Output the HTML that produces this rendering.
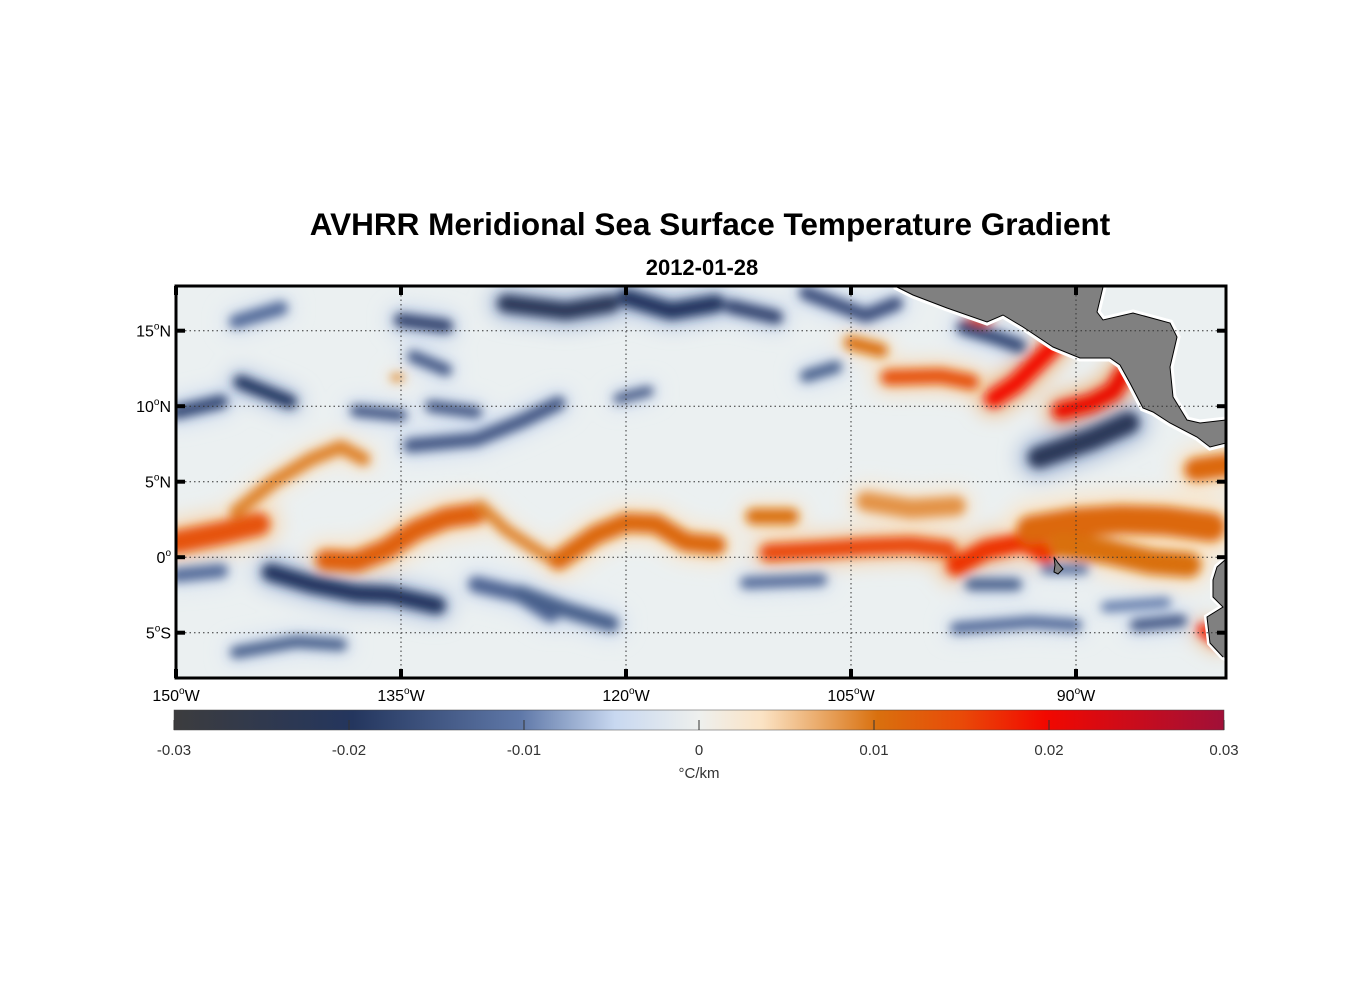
<!DOCTYPE html>
<html><head><meta charset="utf-8"><style>
body{margin:0;background:#fff;}
svg text{font-family:"Liberation Sans",Arial,sans-serif;}
</style></head><body>
<svg id="chart" width="1356" height="1000" xmlns="http://www.w3.org/2000/svg">
<defs>
<clipPath id="mapclip"><rect x="176" y="286" width="1050" height="392"/></clipPath>
<filter id="blur" x="-10%" y="-10%" width="120%" height="120%"><feGaussianBlur stdDeviation="5"/></filter>
<filter id="blur2" x="-10%" y="-10%" width="120%" height="120%"><feGaussianBlur stdDeviation="10"/></filter>
<linearGradient id="cbgrad" x1="0" x2="1" y1="0" y2="0">
<stop offset="0" stop-color="#3c3c3e"/><stop offset="0.17" stop-color="#24365e"/>
<stop offset="0.33" stop-color="#5f78a8"/><stop offset="0.42" stop-color="#c8d8f0"/>
<stop offset="0.5" stop-color="#eef0ee"/><stop offset="0.56" stop-color="#fbe3c4"/>
<stop offset="0.67" stop-color="#d9700e"/><stop offset="0.75" stop-color="#e94a08"/>
<stop offset="0.83" stop-color="#f20800"/><stop offset="1" stop-color="#a01038"/>
</linearGradient>
</defs>
<text x="710" y="235" font-size="31.5" font-weight="bold" text-anchor="middle">AVHRR Meridional Sea Surface Temperature Gradient</text>
<text x="702" y="275" font-size="22" font-weight="bold" text-anchor="middle">2012-01-28</text>
<g id="map" clip-path="url(#mapclip)">
<rect x="176" y="286" width="1050" height="392" fill="#ebf0f1"/>
<g id="halos" filter="url(#blur2)"></g>
<g id="features" filter="url(#blur)"></g>
<g>
<path d="M897,280 L897,287 L913,295 L947,308 L987,322 L1003,315 L1023,327 L1053,347 L1080,358 L1110,358 L1120,365 L1130,383 L1143,408 L1153,412 L1170,423 L1197,437 L1210,447 L1226,443 L1226,420 L1200,423 L1187,420 L1173,397 L1170,367 L1177,337 L1170,323 L1133,313 L1103,320 L1097,312 L1103,287 L1103,280 Z" fill="#808080" stroke="#fff" stroke-width="7" paint-order="stroke"/>
<path d="M897,287 L913,295 L947,308 L987,322 L1003,315 L1023,327 L1053,347 L1080,358 L1110,358 L1120,365 L1130,383 L1143,408 L1153,412 L1170,423 L1197,437 L1210,447 L1226,443 M1226,420 L1200,423 L1187,420 L1173,397 L1170,367 L1177,337 L1170,323 L1133,313 L1103,320 L1097,312 L1103,287" fill="none" stroke="#000" stroke-width="1"/>
<path d="M1230,558 L1225,560 L1217,567 L1213,580 L1213,597 L1223,607 L1207,617 L1210,643 L1223,657 L1230,660 Z" fill="#808080" stroke="#fff" stroke-width="6" paint-order="stroke"/>
<path d="M1225,560 L1217,567 L1213,580 L1213,597 L1223,607 L1207,617 L1210,643 L1223,657" fill="none" stroke="#000" stroke-width="1"/>
<path d="M1054,557 L1058,563 L1063,569 L1058,574 L1054,572 L1055,565 Z" fill="#808080" stroke="#000" stroke-width="1"/>
</g>
<g id="grid"></g>
</g>
<rect x="176" y="286" width="1050" height="392" fill="none" stroke="#000" stroke-width="3"/>
<g id="ticks"></g>
<g>
<rect x="174" y="710" width="1050" height="20" fill="url(#cbgrad)" stroke="#444" stroke-width="0.5"/>
<g id="cbticks"></g>
<text x="699" y="778" font-size="15" text-anchor="middle" fill="#333">°C/km</text>
</g>
</svg>
<script>
// data
const featureLons = [
 [-150,-147,-144.5],[-146,-143.5,-141,-139,-137.5],[-140,-138,-136,-134,-132,-130],
 [-129.7,-128,-126,-124.5],[-124.5,-122,-120,-118,-116,-114],[-111.5,-109],
 [-110.5,-107,-104,-101,-98.5],[-98,-96,-93.5,-92],[-93,-90,-87,-84,-81],[-91,-88,-85,-82.5],
 [-104,-101,-98],[-82,-80],[-105,-103],[-102.5,-99,-97],[-97.5,-96],
 [-95.5,-94,-92.5,-91.5],[-91,-89,-87.5,-86.8],[-81.5,-80.5],[-135.5,-135],
 [-143.7,-141,-138,-135.7,-132.6],[-150,-147],[-130,-127,-125],[-127,-124,-121],
 [-146,-142,-139],[-146,-143],[-135,-132],[-128,-124,-121],[-120,-117,-114],[-113,-110],
 [-108,-104,-102],[-145.7,-142.4],[-150,-147],[-138,-135],[-133,-130],
 [-134.4,-130,-127,-124.5],[-120.5,-118.5],[-108,-106],[-97.5,-95.5,-93.8],
 [-92.5,-89,-86.5],[-134.2,-132],[-112,-107],[-97,-94],[-92,-89.5],[-98,-93,-90],[-86,-83],[-88,-84]
];
const featureLats = [
 [1.0,1.6,2.2],[3,5,6.5,7.3,6.5],[-0.2,-0.3,0.5,1.8,2.6,2.9],
 [3.4,1.8,0.5,-0.4],[-0.2,1.5,2.3,2.2,1.0,0.8],[2.7,2.7],
 [0.3,0.5,0.7,0.8,0.5],[-0.6,0.5,1.0,0.2],[1.8,2.3,2.5,2.4,2.0],[0.8,0.4,-0.3,-0.5],
 [3.7,3.2,3.4],[5.8,6.1],[14.2,13.7],[11.9,12.0,11.6],[15.3,15.8],
 [10.5,11.5,13,14],[9.7,10.2,11,12.2],[-4.8,-5.5],[11.9,11.9],
 [-1,-1.8,-2.4,-2.5,-3.2],[-1.2,-0.9],[-1.8,-2.5,-3.8],[-2.4,-3.5,-4.4],
 [-6.3,-5.6,-5.8],[15.6,16.5],[15.7,15.3],[16.8,16.3,16.8],[17.2,16.3,16.8],[16.6,15.9],
 [17.5,16,16.8],[11.6,10.3],[9.6,10.3],[9.7,9.4],[10,9.6],
 [7.4,7.8,9,10.2],[10.5,11],[12,12.6],[15.2,14.6,14],
 [6.6,7.8,8.9],[13.3,12.4],[-1.7,-1.5],[-1.8,-1.8],[-0.8,-0.8],[-4.7,-4.3,-4.5],[-4.5,-4.2],[-3.3,-3.0]
];
const featureValues = [
 0.014,0.009,0.012,0.009,0.011,0.01,0.015,0.017,0.011,0.01,0.008,0.011,0.01,0.014,0.015,0.02,0.021,0.02,0.01,
 -0.02,-0.012,-0.013,-0.014,-0.014,-0.012,-0.018,-0.022,-0.02,-0.018,-0.016,-0.02,-0.017,-0.015,-0.015,
 -0.015,-0.015,-0.014,-0.017,-0.022,-0.015,-0.012,-0.014,-0.012,-0.012,-0.015,-0.01
];
const featureWidths = [
 1.2,0.7,1.1,0.6,1.0,0.8,0.9,1.0,1.5,1.3,1.0,1.2,0.7,0.8,0.6,0.9,0.9,0.6,0.3,
 0.9,0.7,0.8,0.8,0.6,0.7,0.7,0.9,0.9,0.7,0.7,0.7,0.7,0.6,0.6,0.7,0.5,0.6,0.7,1.1,0.6,0.6,0.6,0.5,0.6,0.6,0.5
];
const lonTicks = [-150,-135,-120,-105,-90];
const lonTickLabels = ["150","135","120","105","90"];
const latTicks = [15,10,5,0,-5];
const latTickLabels = ["15","10","5","0","5"];
const latTickSuffix = ["N","N","N","",'S'];
const cbTicks = [-0.03,-0.02,-0.01,0,0.01,0.02,0.03];

const NS="http://www.w3.org/2000/svg";
const X0=176,X1=1226,LON0=-150,LON1=-80,Y0=286,Y1=678,LAT0=17.96,LAT1=-8;
function xs(lon){return X0+(lon-LON0)/(LON1-LON0)*(X1-X0);}
function ys(lat){return Y0+(lat-LAT0)/(LAT1-LAT0)*(Y1-Y0);}
function cbx(v){return 174+(v+0.03)/0.06*1050;}
const stops=[[-0.03,[60,60,62]],[-0.02,[36,54,94]],[-0.01,[95,120,168]],[-0.005,[200,216,240]],[0,[238,240,238]],[0.0035,[251,227,196]],[0.01,[217,112,14]],[0.015,[233,74,8]],[0.02,[242,8,0]],[0.03,[160,16,56]]];
function cmap(v){
 v=Math.max(-0.03,Math.min(0.03,v));
 for(let i=0;i<stops.length-1;i++){const a=stops[i],b=stops[i+1];
  if(v<=b[0]){const t=(v-a[0])/(b[0]-a[0]);const c=a[1].map((q,k)=>Math.round(q+(b[1][k]-q)*t));return `rgb(${c})`;}}
 return 'rgb(160,16,56)';
}
const fg=document.getElementById('features');
const hg=document.getElementById('halos');
featureValues.forEach((v,i)=>{
 const pts=featureLons[i].map((lon,j)=>xs(lon)+','+ys(featureLats[i][j])).join(' ');
 const halo=document.createElementNS(NS,'polyline');
 halo.setAttribute('points',pts);
 halo.setAttribute('fill','none');
 halo.setAttribute('stroke',cmap(v*0.3));
 halo.setAttribute('stroke-width',featureWidths[i]*15*2.4);
 halo.setAttribute('stroke-linecap','round');halo.setAttribute('stroke-linejoin','round');
 hg.appendChild(halo);
 const pl=document.createElementNS(NS,'polyline');
 
 
 pl.setAttribute('points',pts);
 pl.setAttribute('fill','none');
 pl.setAttribute('stroke',cmap(v));
 pl.setAttribute('stroke-width',featureWidths[i]*15*1.3);
 pl.setAttribute('stroke-linecap','round');pl.setAttribute('stroke-linejoin','round');
 fg.appendChild(pl);
});
const grid=document.getElementById('grid');
function line(g,x1,y1,x2,y2,attrs){const l=document.createElementNS(NS,'line');
 l.setAttribute('x1',x1);l.setAttribute('y1',y1);l.setAttribute('x2',x2);l.setAttribute('y2',y2);
 for(const k in attrs)l.setAttribute(k,attrs[k]);g.appendChild(l);return l;}
lonTicks.forEach(lon=>{const l=line(grid,xs(lon),Y0,xs(lon),Y1,{stroke:'#333','stroke-width':1,'stroke-dasharray':'1.5 3'});
 
 });
latTicks.forEach(lat=>{const l=line(grid,X0,ys(lat),X1,ys(lat),{stroke:'#333','stroke-width':1,'stroke-dasharray':'1.5 3'});
 
 });
const tk=document.getElementById('ticks');
function txt(g,x,y,html,size,anchor,name){const t=document.createElementNS(NS,'text');
 t.setAttribute('x',x);t.setAttribute('y',y);t.setAttribute('font-size',size);t.setAttribute('text-anchor',anchor);
 t.innerHTML=html;
 
 
 g.appendChild(t);return t;}
lonTicks.forEach((lon,i)=>{const x=xs(lon);
 line(tk,x,Y0,x,Y0+9,{stroke:'#000','stroke-width':4});
 line(tk,x,Y1,x,Y1-9,{stroke:'#000','stroke-width':4});
 txt(tk,x,701,lonTickLabels[i]+'<tspan font-size="10" dy="-7">o</tspan><tspan dy="7">W</tspan>',16,'middle','x-tick-label');});
latTicks.forEach((lat,i)=>{const y=ys(lat);
 line(tk,X0,y,X0+9,y,{stroke:'#000','stroke-width':4});
 line(tk,X1,y,X1-9,y,{stroke:'#000','stroke-width':4});
 txt(tk,171,y+6,latTickLabels[i]+'<tspan font-size="10" dy="-7">o</tspan><tspan dy="7">'+latTickSuffix[i]+'</tspan>',16,'end','y-tick-label');});
const cbt=document.getElementById('cbticks');
cbTicks.forEach(v=>{const x=cbx(v);
 line(cbt,x,720,x,730,{stroke:'#333','stroke-width':1});
 const t=txt(cbt,x,755,String(v),15,'middle','colorbar-tick-label');t.setAttribute('fill','#333');});
</script>
</body></html>
